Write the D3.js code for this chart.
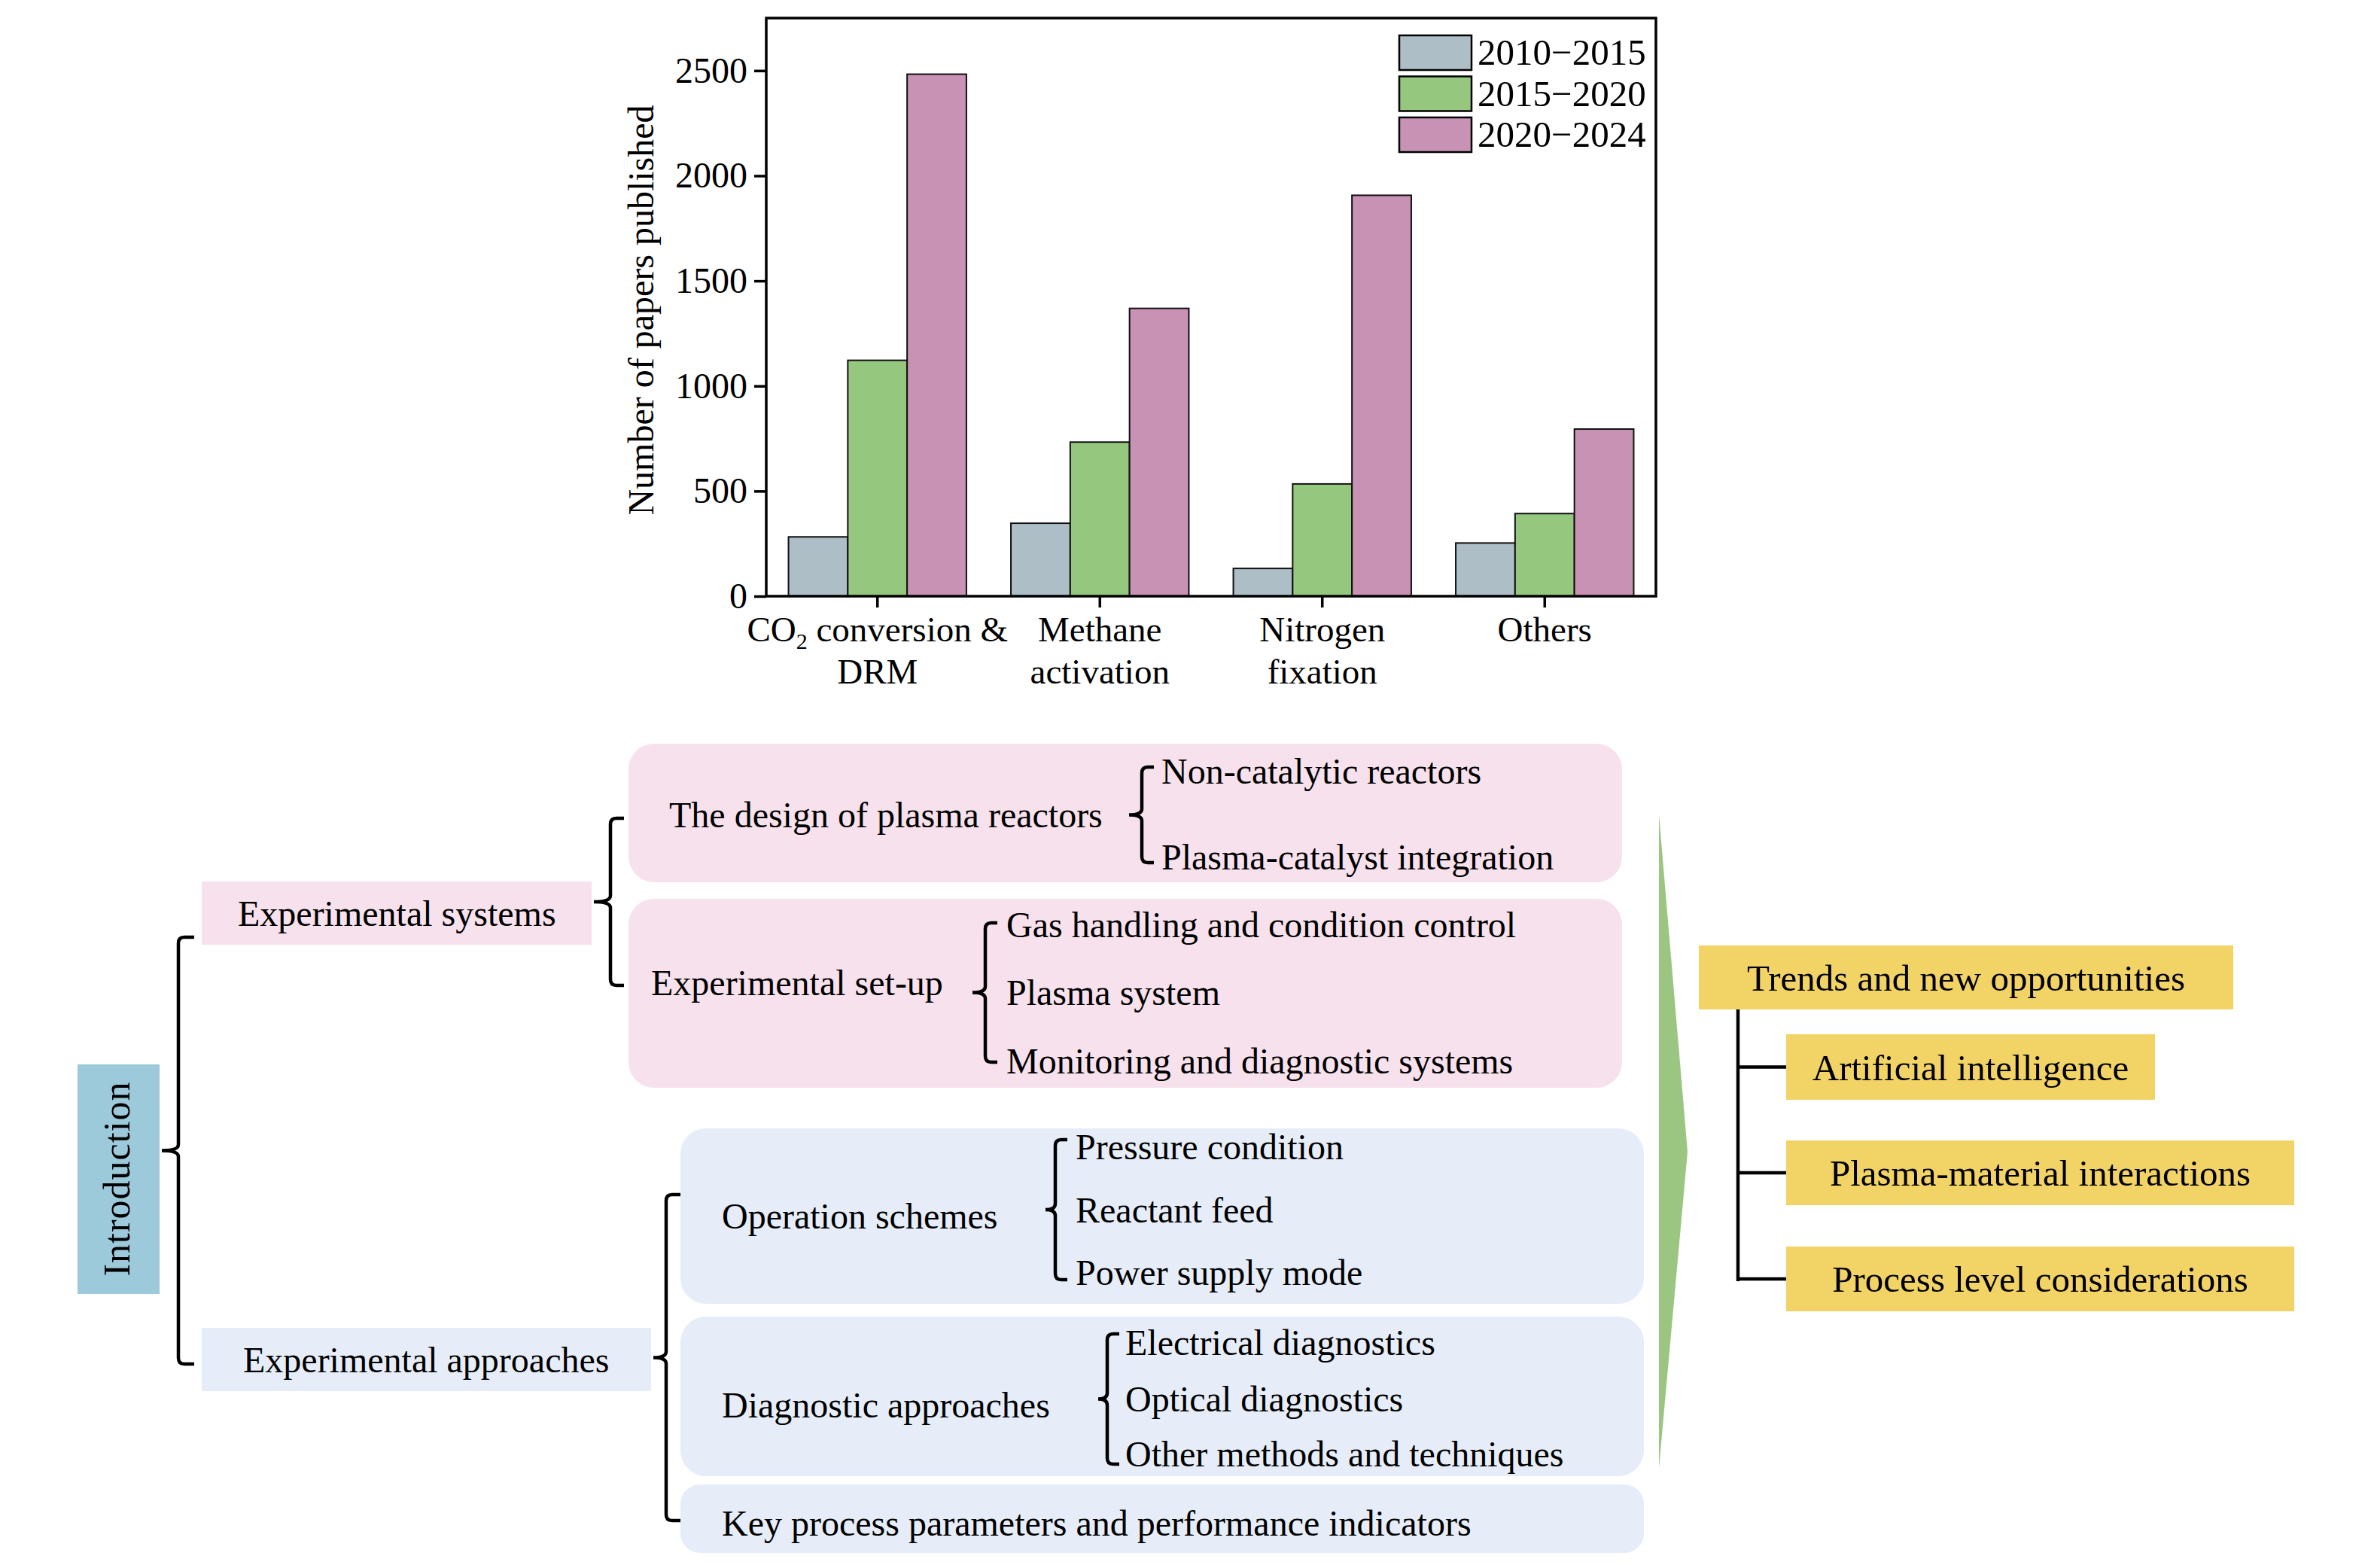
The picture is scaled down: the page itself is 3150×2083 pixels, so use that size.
<!DOCTYPE html>
<html>
<head>
<meta charset="utf-8">
<script src="https://cdn.jsdelivr.net/npm/d3@7"></script>
<style>
  html, body { margin: 0; padding: 0; background: #fff; }
  svg { display: block; font-family: "Liberation Serif", "Times New Roman", serif; }
</style>
</head>
<body>
<svg id="fig" width="3150" height="2083"></svg>
<script>
// ---- bar chart data ----
const categories = ["CO2 conversion & DRM", "Methane activation", "Nitrogen fixation", "Others"];
const categoryLines = [["CO_2 conversion &", "DRM"], ["Methane", "activation"], ["Nitrogen", "fixation"], ["Others"]];
const periods = ["2010\u22122015", "2015\u22122020", "2020\u22122024"];
const papers2010 = [282, 347, 132, 253];
const papers2015 = [1122, 733, 534, 393];
const papers2020 = [2483, 1369, 1907, 795];
const yTicks = [0, 500, 1000, 1500, 2000, 2500];
const periodColors = ["#adbec6", "#95c77e", "#c892b4"];

// ---- outline texts ----
const rootTopic = "Introduction";
const mainTopics = ["Experimental systems", "Experimental approaches"];
const systemTopics = ["The design of plasma reactors", "Experimental set-up"];
const reactorItems = ["Non-catalytic reactors", "Plasma-catalyst integration"];
const setupItems = ["Gas handling and condition control", "Plasma system", "Monitoring and diagnostic systems"];
const approachTopics = ["Operation schemes", "Diagnostic approaches", "Key process parameters and performance indicators"];
const operationItems = ["Pressure condition", "Reactant feed", "Power supply mode"];
const diagnosticItems = ["Electrical diagnostics", "Optical diagnostics", "Other methods and techniques"];
const outlookTitle = "Trends and new opportunities";
const outlookItems = ["Artificial intelligence", "Plasma-material interactions", "Process level considerations"];

const svg = d3.select("#fig");

// =================== bar chart ===================
const plotLeft = 1018, plotRight = 2200, plotTop = 24, plotBottom = 792;
const series = [papers2010, papers2015, papers2020];

const x0 = d3.scaleBand().domain(categories).range([plotLeft, plotRight])
    .paddingInner(0.2).paddingOuter(0.1);
const x1 = d3.scaleBand().domain(periods).range([0, x0.bandwidth()]);
const y = d3.scaleLinear().domain([0, 2750]).range([plotBottom, plotTop]);

const rows = categories.map((c, i) => ({
    cat: c,
    vals: periods.map((p, j) => ({ period: p, value: series[j][i], color: periodColors[j] }))
}));

const chart = svg.append("g");

const groups = chart.selectAll(".grp")
    .data(rows)
    .enter()
    .append("g")
    .attr("class", "grp")
    .attr("transform", d => "translate(" + x0(d.cat) + ",0)");

groups.selectAll("rect")
    .data(d => d.vals)
    .enter()
    .append("rect")
    .attr("x", d => x1(d.period))
    .attr("y", d => y(d.value))
    .attr("width", x1.bandwidth())
    .attr("height", d => y(0) - y(d.value))
    .style("fill", d => d.color)
    .style("stroke", "#111")
    .style("stroke-width", 2);

// y axis
const yAxis = chart.append("g")
    .attr("transform", "translate(" + plotLeft + ",0)")
    .call(d3.axisLeft(y).tickValues(yTicks).tickFormat(d3.format("d")).tickSize(16).tickPadding(9));
yAxis.select(".domain").remove();
yAxis.selectAll(".tick line").style("stroke", "#000").style("stroke-width", 3.5);
yAxis.selectAll(".tick text")
    .style("font-family", "Liberation Serif")
    .style("font-size", "48px")
    .style("fill", "#000");

// x axis
const xAxis = chart.append("g")
    .attr("transform", "translate(0," + plotBottom + ")")
    .call(d3.axisBottom(x0).tickSize(15).tickFormat(""));
xAxis.select(".domain").remove();
xAxis.selectAll(".tick line").style("stroke", "#000").style("stroke-width", 3.5);

const catLabel = chart.selectAll(".cat")
    .data(categories.map((c, i) => ({ cat: c, lines: categoryLines[i] })))
    .enter()
    .append("text")
    .attr("class", "cat")
    .attr("text-anchor", "middle")
    .style("font-size", "47px");

catLabel.each(function (d) {
    const t = d3.select(this);
    const cx = x0(d.cat) + x0.bandwidth() / 2;
    d.lines.forEach((line, k) => {
        const parts = line.split("_2");
        const ts = t.append("tspan").attr("x", cx).attr("y", 852 + k * 56);
        if (parts.length > 1) {
            ts.text(parts[0]);
            t.append("tspan").attr("dy", 10).style("font-size", "30px").text("2");
            t.append("tspan").attr("dy", -10).text(parts[1]);
        } else {
            ts.text(line);
        }
    });
});

// frame
chart.append("rect")
    .attr("x", plotLeft).attr("y", plotTop)
    .attr("width", plotRight - plotLeft).attr("height", plotBottom - plotTop)
    .style("fill", "none").style("stroke", "#000").style("stroke-width", 3.5);

// y title
chart.append("text")
    .attr("transform", "translate(868," + ((plotTop + plotBottom) / 2 + 4) + ") rotate(-90)")
    .attr("text-anchor", "middle")
    .style("font-size", "48px")
    .text("Number of papers published");

// legend
const legend = chart.selectAll(".leg")
    .data(periods)
    .enter()
    .append("g")
    .attr("class", "leg")
    .attr("transform", (d, i) => "translate(1859," + (47 + i * 54.5) + ")");
legend.append("rect")
    .attr("width", 96).attr("height", 46)
    .style("fill", (d, i) => periodColors[i])
    .style("stroke", "#000").style("stroke-width", 2.5);
legend.append("text")
    .attr("x", 104).attr("y", 39)
    .style("font-size", "49px")
    .text(d => d);

// =================== outline diagram ===================
const g = svg.append("g").style("font-size", "48px");
const pink = "#f6e1ec", blue = "#e6edf8", yellow = "#f2d366";

function box(x, yy, w, h, fill, r) {
    g.append("rect").attr("x", x).attr("y", yy).attr("width", w).attr("height", h)
        .attr("rx", r || 0).style("fill", fill);
}
function label(txt, x, yy, anchor) {
    g.append("text").attr("x", x).attr("y", yy)
        .attr("text-anchor", anchor || "start").text(txt);
}
// curly bracket: vertical line at x from y0 to y1, pointed nub to the left at the middle
function bracket(x, y0, y1, nub, end) {
    const ym = (y0 + y1) / 2, r = 8;
    const p = d3.path();
    p.moveTo(x + end, y0);
    p.lineTo(x + r, y0);
    p.quadraticCurveTo(x, y0, x, y0 + r);
    p.lineTo(x, ym - r);
    p.quadraticCurveTo(x, ym, x - nub, ym);
    p.quadraticCurveTo(x, ym, x, ym + r);
    p.lineTo(x, y1 - r);
    p.quadraticCurveTo(x, y1, x + r, y1);
    p.lineTo(x + end, y1);
    g.append("path").attr("d", p.toString())
        .style("fill", "none").style("stroke", "#000").style("stroke-width", 4.5);
}

// root
box(103, 1414, 109, 305, "#9ccadb");
g.append("text")
    .attr("transform", "translate(172,1566) rotate(-90)")
    .attr("text-anchor", "middle")
    .style("font-size", "50px")
    .style("letter-spacing", "1px")
    .text(rootTopic);
bracket(237, 1245, 1812, 22, 21);

// main topics
box(268, 1171, 518, 84, pink);
label(mainTopics[0], 316, 1230);
box(268, 1764, 597, 84, blue);
label(mainTopics[1], 323, 1823);

// experimental systems
bracket(811, 1087, 1309, 22, 18);
box(835, 988, 1320, 184, pink, 34);
box(835, 1194, 1320, 251, pink, 34);
label(systemTopics[0], 889, 1099);
label(systemTopics[1], 865, 1322);
bracket(1517, 1019, 1146, 17, 16);
const reactorY = [1041, 1155];
reactorItems.forEach((t, i) => label(t, 1543, reactorY[i]));
bracket(1309, 1226, 1411, 17, 16);
const setupY = [1245, 1335, 1426];
setupItems.forEach((t, i) => label(t, 1337, setupY[i]));

// experimental approaches
bracket(885, 1587, 2020, 17, 19);
box(904, 1499, 1280, 233, blue, 34);
box(904, 1749, 1280, 212, blue, 34);
box(904, 1972, 1280, 91, blue, 26);
label(approachTopics[0], 959, 1632);
label(approachTopics[1], 959, 1883);
label(approachTopics[2], 959, 2040);
bracket(1402, 1514, 1700, 13, 16);
const operationY = [1540, 1624, 1707];
operationItems.forEach((t, i) => label(t, 1429, operationY[i]));
bracket(1471, 1772, 1945, 12, 16);
const diagnosticY = [1800, 1875, 1948];
diagnosticItems.forEach((t, i) => label(t, 1495, diagnosticY[i]));

// green arrow
g.append("path")
    .attr("d", "M2204,1082 L2242,1530 L2204,1950 Z")
    .style("fill", "#9bc682");

// outlook
box(2257, 1256, 710, 85, yellow);
g.append("text").attr("x", 2612).attr("y", 1316).attr("text-anchor", "middle")
    .style("font-size", "49px").text(outlookTitle);
const outBoxes = [[2373, 1374, 490, 87], [2373, 1515, 675, 86], [2373, 1656, 675, 86]];
g.append("path")
    .attr("d", "M2309,1341 L2309,1702")
    .style("stroke", "#000").style("stroke-width", 4.5);
outlookItems.forEach((t, i) => {
    const b = outBoxes[i];
    const cy = b[1] + b[3] / 2;
    g.append("path").attr("d", "M2307," + cy + " L2377," + cy)
        .style("stroke", "#000").style("stroke-width", 4.5);
    box(b[0], b[1], b[2], b[3], yellow);
    g.append("text").attr("x", b[0] + b[2] / 2).attr("y", cy + 17)
        .attr("text-anchor", "middle").style("font-size", "49px").text(t);
});
</script>
</body>
</html>
